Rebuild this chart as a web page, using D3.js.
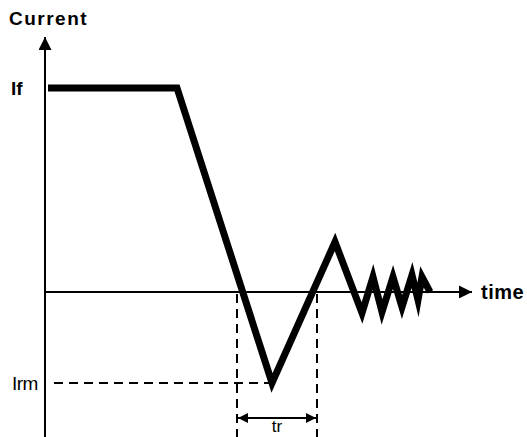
<!DOCTYPE html>
<html>
<head>
<meta charset="utf-8">
<script src="https://cdn.jsdelivr.net/npm/d3@7"></script>
<style>
  body { margin: 0; background: #fff; }
  text { font-family: "Liberation Sans", Arial, sans-serif; fill: #000; }
</style>
</head>
<body>
<svg id="chart" width="527" height="437"></svg>
<script>
// waveform: time (arbitrary units) vs current (If = 1)
const times    = [0, 3.225, 5.6, 7.175, 7.85, 8.125, 8.35, 8.625, 8.85, 9.1, 9.25, 9.35, 9.55];
const currents = [1, 1, -0.446, 0.245, -0.103, 0.074, -0.098, 0.074, -0.074, 0.083, -0.039, 0.074, 0];

const iF = 1, iRM = -0.446;
const tTrough = 5.6;
const trStart = 4.725, trEnd = 6.725;

const svg = d3.select("#chart");
const x = d3.scaleLinear().domain([0, 10.6]).range([48, 472]);
const y = d3.scaleLinear().domain([-0.711, 1.25]).range([437, 37]);

// arrow heads
const defs = svg.append("defs");
defs.append("marker")
  .attr("id", "head").attr("viewBox", "0 0 10 10")
  .attr("refX", 10).attr("refY", 5)
  .attr("markerWidth", 7).attr("markerHeight", 6.5)
  .attr("markerUnits", "strokeWidth")
  .attr("orient", "auto-start-reverse")
  .append("path").attr("d", "M0,0L10,5L0,10Z").attr("fill", "#000");
defs.append("marker")
  .attr("id", "small").attr("viewBox", "0 0 10 10")
  .attr("refX", 10).attr("refY", 5)
  .attr("markerWidth", 6).attr("markerHeight", 5)
  .attr("markerUnits", "strokeWidth")
  .attr("orient", "auto-start-reverse")
  .append("path").attr("d", "M0,0L10,5L0,10Z").attr("fill", "#000");

// axes
svg.append("line")
  .attr("x1", x(0) - 3).attr("x2", x(0) - 3)
  .attr("y1", y.range()[0]).attr("y2", y.range()[1])
  .attr("stroke", "#000").attr("stroke-width", 2)
  .attr("marker-end", "url(#head)");
svg.append("line")
  .attr("x1", x(0) - 3).attr("x2", x(10.6))
  .attr("y1", y(0)).attr("y2", y(0))
  .attr("stroke", "#000").attr("stroke-width", 2)
  .attr("marker-end", "url(#head)");

// dashed guides
const dash = "9,6";
svg.append("line")
  .attr("x1", x(0) + 6).attr("x2", x(tTrough))
  .attr("y1", y(iRM)).attr("y2", y(iRM))
  .attr("stroke", "#000").attr("stroke-width", 2).attr("stroke-dasharray", dash);
[trStart, trEnd].forEach(t => {
  svg.append("line")
    .attr("x1", x(t)).attr("x2", x(t))
    .attr("y1", y(0) + 2).attr("y2", 437)
    .attr("stroke", "#000").attr("stroke-width", 2).attr("stroke-dasharray", dash);
});

// tr double arrow
svg.append("line")
  .attr("x1", x(trStart) + 1).attr("x2", x(trEnd) - 1)
  .attr("y1", 418).attr("y2", 418)
  .attr("stroke", "#000").attr("stroke-width", 2)
  .attr("marker-start", "url(#small)").attr("marker-end", "url(#small)");

// waveform
const line = d3.line().x((d, i) => x(times[i])).y(d => y(d));
svg.append("path")
  .attr("d", line(currents))
  .attr("fill", "none").attr("stroke", "#000")
  .attr("stroke-width", 7).attr("stroke-linejoin", "miter")
  .attr("stroke-miterlimit", 10);

// labels
svg.append("text").attr("x", 9).attr("y", 25)
  .attr("font-size", 19).attr("font-weight", "bold").attr("letter-spacing", 1.5)
  .text("Current");
svg.append("text").attr("x", 11).attr("y", y(iF) + 7)
  .attr("font-size", 19).attr("font-weight", "bold").text("If");
svg.append("text").attr("x", 12).attr("y", y(iRM) + 7)
  .attr("font-size", 19).attr("letter-spacing", -0.5).text("Irm");
svg.append("text").attr("x", (x(trStart) + x(trEnd)) / 2).attr("y", 432)
  .attr("text-anchor", "middle").attr("font-size", 17).text("tr");
svg.append("text").attr("x", 481).attr("y", y(0) + 7)
  .attr("font-size", 20).attr("font-weight", "bold").attr("letter-spacing", 0.5)
  .text("time");
</script>
</body>
</html>
